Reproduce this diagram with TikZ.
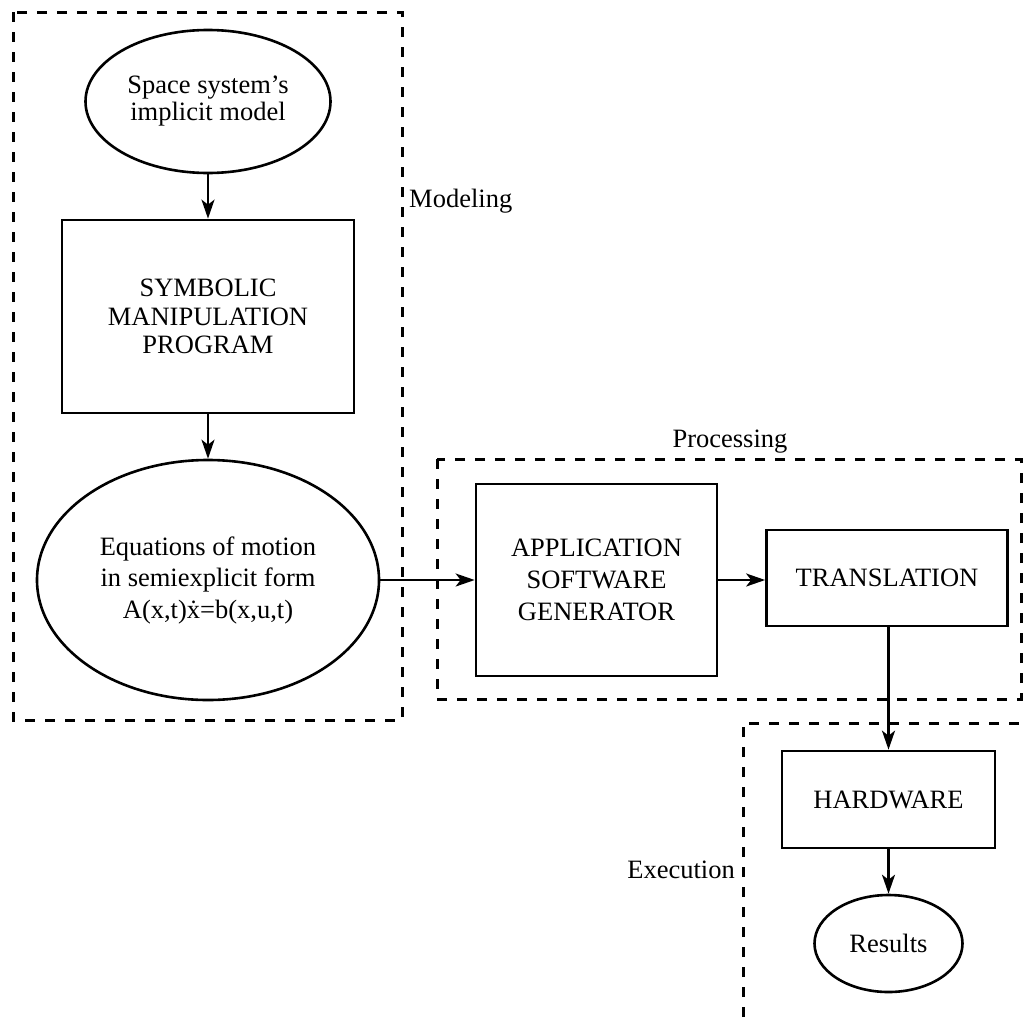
\documentclass[tikz,border=0pt]{standalone}
\usepackage{fontspec}
\setmainfont{Liberation Serif}
\usetikzlibrary{arrows.meta,shapes.geometric}

\begin{document}
\begin{tikzpicture}[x=1pt,y=-1pt,
  every node/.style={font=\fontsize{26.5}{28}\selectfont, inner sep=0pt},
  blockbox/.style={draw, line width=2.7pt, rectangle, align=center},
  oval/.style={draw, line width=2.6pt, ellipse, align=center},
  region/.style={line width=3pt, dash pattern=on 10pt off 10pt},
  flow/.style={line width=2.3pt, -{Stealth[length=19pt,width=13pt,inset=5pt]}}
]
\useasboundingbox (0,0) rectangle (1027,1017);

% dashed regions
\draw[region] (13,12) rectangle (402,720);
\draw[region] (437,459) rectangle (1021,699);
\draw[region] (743,1017) -- (743,723) -- (1027,723);

% region labels
\node[anchor=base west] (modlabel) at (409,207) {Modeling};
\node[anchor=base] (proclabel) at (730,447) {Processing};
\node[anchor=base east] (execlabel) at (735,878) {Execution};

% blocks
\node[oval, minimum width=245pt, minimum height=143pt,
      font=\fontsize{26.5}{27}\selectfont] (implicit) at (208,101.5)
  {Space system's\\implicit model};
\node[blockbox, minimum width=292pt, minimum height=193pt,
      font=\fontsize{26.5}{28.3}\selectfont] (symbolic) at (208,316.5)
  {SYMBOLIC\\MANIPULATION\\PROGRAM};
\node[oval, minimum width=342pt, minimum height=240pt,
      font=\fontsize{26.5}{31.5}\selectfont] (motion) at (208,580)
  {Equations of motion\\in semiexplicit form\\A(x,t)ẋ=b(x,u,t)};
\node[blockbox, minimum width=241pt, minimum height=192pt,
      font=\fontsize{26.5}{32}\selectfont] (generator) at (596.5,580)
  {APPLICATION\\SOFTWARE\\GENERATOR};
\node[blockbox, minimum width=241pt, minimum height=96pt] (translation) at (887,578)
  {TRANSLATION};
\node[blockbox, minimum width=213pt, minimum height=97pt] (hardware) at (888.5,799.5)
  {HARDWARE};
\node[oval, minimum width=148pt, minimum height=97pt] (results) at (888.5,943.5)
  {Results};

% connectors
\draw[flow] (implicit) -- (symbolic);
\draw[flow] (symbolic) -- (motion);
\draw[flow] (motion) -- (generator);
\draw[flow] (generator.east) -- (translation.west |- generator.east);
\draw[flow] (translation.south -| hardware.north) -- (hardware.north);
\draw[flow] (hardware) -- (results);
\end{tikzpicture}
\end{document}
